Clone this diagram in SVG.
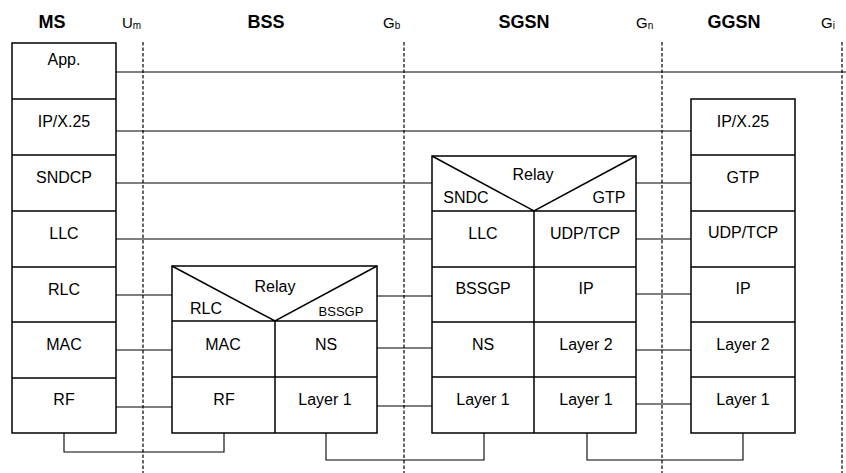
<svg xmlns="http://www.w3.org/2000/svg" width="846" height="473" viewBox="0 0 846 473">
<style>
.bx{fill:none;stroke:#000;stroke-width:1.5}
.ln{fill:none;stroke:#000;stroke-width:1.1}
.dl{fill:none;stroke:#000;stroke-width:1.2;stroke-dasharray:3.5 2}
.t{font-family:"Liberation Sans",Arial,sans-serif;font-size:16px;text-anchor:middle;fill:#000}
.h{font-family:"Liberation Sans",Arial,sans-serif;font-size:18px;font-weight:bold;text-anchor:middle;fill:#000}
.g{font-family:"Liberation Sans",Arial,sans-serif;font-size:15px;fill:#000}
.s{font-size:10px}
.sm{font-size:13px}
</style>
<rect width="846" height="473" fill="#fff"/>
<g id="headers">
<text class="h" x="52" y="28">MS</text>
<text class="g" x="122" y="28">U<tspan class="s" dy="1">m</tspan></text>
<text class="h" x="266" y="28">BSS</text>
<text class="g" x="383" y="28">G<tspan class="s" dy="1">b</tspan></text>
<text class="h" x="524" y="28">SGSN</text>
<text class="g" x="636" y="28">G<tspan class="s" dy="1">n</tspan></text>
<text class="h" x="734" y="28">GGSN</text>
<text class="g" x="821" y="28">G<tspan class="s" dy="1">i</tspan></text>
</g>
<g id="interfaces">
<line class="dl" x1="143" y1="42" x2="143" y2="473"/>
<line class="dl" x1="404" y1="42" x2="404" y2="473"/>
<line class="dl" x1="662" y1="42" x2="662" y2="473"/>
<line class="dl" x1="842" y1="42" x2="842" y2="473"/>
</g>
<g id="connectors">
<line class="ln" x1="116" y1="72" x2="846" y2="72"/>
<line class="ln" x1="116" y1="131" x2="691" y2="131"/>
<line class="ln" x1="116" y1="183" x2="432" y2="183"/>
<line class="ln" x1="116" y1="239" x2="432" y2="239"/>
<line class="ln" x1="116" y1="295" x2="172" y2="295"/>
<line class="ln" x1="116" y1="350" x2="172" y2="350"/>
<line class="ln" x1="116" y1="407" x2="172" y2="407"/>
<line class="ln" x1="377" y1="296" x2="432" y2="296"/>
<line class="ln" x1="377" y1="348" x2="432" y2="348"/>
<line class="ln" x1="377" y1="406" x2="432" y2="406"/>
<line class="ln" x1="636" y1="183" x2="691" y2="183"/>
<line class="ln" x1="636" y1="239" x2="691" y2="239"/>
<line class="ln" x1="636" y1="294" x2="691" y2="294"/>
<line class="ln" x1="636" y1="350" x2="691" y2="350"/>
<line class="ln" x1="636" y1="404" x2="691" y2="404"/>
<polyline class="ln" points="64,433 64,452 224,452 224,433"/>
<polyline class="ln" points="326,433 326,460 484,460 484,433"/>
<polyline class="ln" points="587,433 587,460 743,460 743,433"/>
</g>
<g id="ms">
<rect class="bx" x="12" y="43" width="104" height="390"/>
<path class="bx" d="M12 99H116M12 155H116M12 211H116M12 267H116M12 322H116M12 378H116"/>
<text class="t" x="64" y="65">App.</text>
<text class="t" x="64" y="127">IP/X.25</text>
<text class="t" x="64" y="183">SNDCP</text>
<text class="t" x="64" y="239">LLC</text>
<text class="t" x="64" y="295">RLC</text>
<text class="t" x="64" y="350">MAC</text>
<text class="t" x="64" y="405">RF</text>
</g>
<g id="bss">
<rect class="bx" x="172" y="266" width="205" height="167"/>
<path class="bx" d="M172 321H377M172 377H377M275 321V433M172 266L275 321L377 266"/>
<text class="t" x="275" y="292">Relay</text>
<text class="t" x="206" y="314">RLC</text>
<text class="t sm" x="341" y="316">BSSGP</text>
<text class="t" x="223" y="350">MAC</text>
<text class="t" x="326" y="350">NS</text>
<text class="t" x="224" y="405">RF</text>
<text class="t" x="325" y="405">Layer 1</text>
</g>
<g id="sgsn">
<rect class="bx" x="432" y="156" width="204" height="277"/>
<path class="bx" d="M432 211H636M432 267H636M432 322H636M432 377H636M534 211V433M432 156L534 211L636 156"/>
<text class="t" x="533" y="180">Relay</text>
<text class="t" x="466" y="203">SNDC</text>
<text class="t" x="609" y="203">GTP</text>
<text class="t" x="483" y="239">LLC</text>
<text class="t" x="585" y="239">UDP/TCP</text>
<text class="t" x="483" y="294">BSSGP</text>
<text class="t" x="586" y="294">IP</text>
<text class="t" x="483" y="350">NS</text>
<text class="t" x="586" y="350">Layer 2</text>
<text class="t" x="483" y="405">Layer 1</text>
<text class="t" x="586" y="405">Layer 1</text>
</g>
<g id="ggsn">
<rect class="bx" x="691" y="99" width="104" height="334"/>
<path class="bx" d="M691 155H795M691 211H795M691 267H795M691 322H795M691 377H795"/>
<text class="t" x="743" y="127">IP/X.25</text>
<text class="t" x="743" y="183">GTP</text>
<text class="t" x="743" y="238">UDP/TCP</text>
<text class="t" x="743" y="294">IP</text>
<text class="t" x="743" y="350">Layer 2</text>
<text class="t" x="743" y="405">Layer 1</text>
</g>
</svg>
